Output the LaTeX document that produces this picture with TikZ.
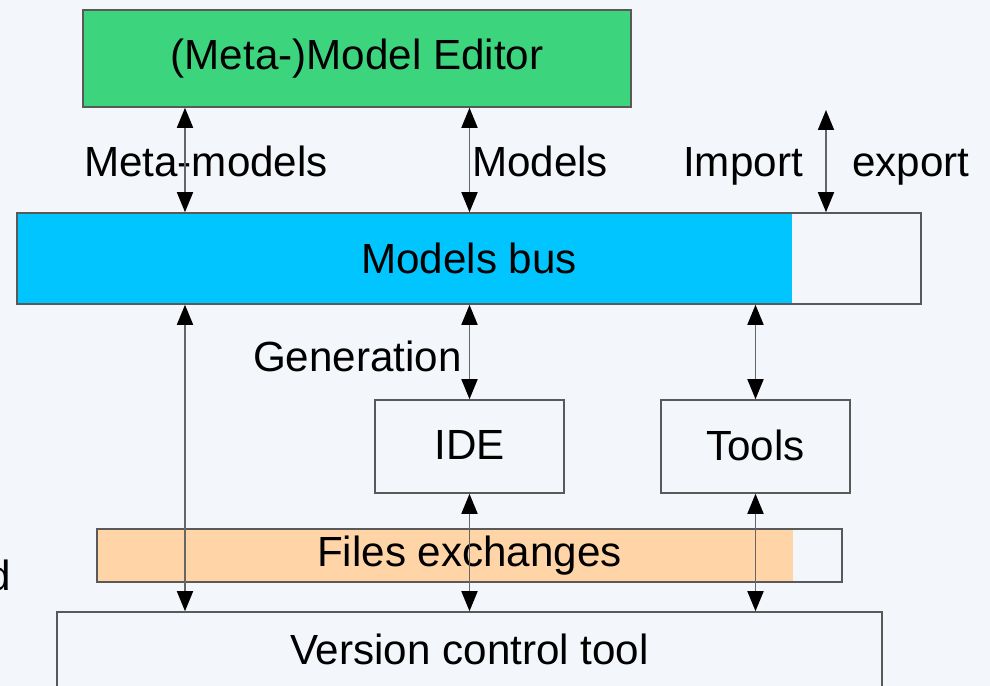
\documentclass[tikz,border=0pt]{standalone}
\usepackage{fontspec}
\setmainfont{Liberation Sans}
\usepackage{tikz}
\usetikzlibrary{arrows.meta}
\definecolor{editorgreen}{HTML}{3DD47E}
\definecolor{buscyan}{HTML}{00C5FF}
\definecolor{filesorange}{HTML}{FFD5A8}
\definecolor{slidebg}{HTML}{F3F6FB}
\tikzstyle{box} = [rectangle, draw=black!65, line width=0.9pt, inner sep=0pt]
\tikzstyle{biarrow} = [draw=black!60, line width=1pt, {Triangle[length=0.4cm,width=0.32cm,color=black]}-{Triangle[length=0.4cm,width=0.32cm,color=black]}]
\tikzset{part fill/.style 2 args={path picture={\fill[#1] (path picture bounding box.south west) rectangle ([xshift=#2]path picture bounding box.north west);}}}

\begin{document}
\begin{tikzpicture}[font=\fontsize{24}{28}\selectfont, node distance=5.72cm]
		\fill[slidebg] (0,0) rectangle (19.8,13.72);
		\useasboundingbox (0,0) rectangle (19.8,13.72);
		% boxes
		\node[box, fill=editorgreen, minimum width=10.96cm, minimum height=1.94cm] (editor) at (7.14,12.55) {(Meta-)Model Editor};
		\node[box, part fill={buscyan}{15.5cm}, minimum width=18.08cm, minimum height=1.82cm] (bus) at (9.38,8.55) {Models bus};
		\node[box, minimum width=3.78cm, minimum height=1.86cm, text depth=0.05cm] (ide) at (9.39,4.79) {IDE};
		\node[box, minimum width=3.78cm, minimum height=1.86cm, text depth=0.05cm, right of = ide] (tools) {Tools};
		\node[box, part fill={filesorange}{13.92cm}, minimum width=14.9cm, minimum height=1.06cm] (files) at (9.39,2.61) {Files exchanges};
		\node[box, minimum width=16.5cm, minimum height=1.78cm] (vcs) at (9.39,0.59) {};
		\node[anchor=base] (vcslabel) at (9.39,0.42) {Version control tool};
		\node[anchor=base east, inner sep=0pt] (cut) at (0.22,1.9) {d};
		% labels
		\node[anchor=base] (metalabel) at (4.12,10.18) {Meta-models};
		\node[anchor=base] (modlabel) at (10.8,10.18) {Models};
		\node[anchor=base] (implabel) at (14.86,10.18) {Import};
		\node[anchor=base] (explabel) at (18.22,10.18) {export};
		\node[anchor=base] (genlabel) at (7.15,6.28) {Generation};
		% arrows
		\coordinate (lx) at (3.7,0);
		\coordinate (io) at (16.52,11.52);
		\draw[biarrow] (editor.south -| lx) -- (bus.north -| lx);
		\draw[biarrow] (editor.south -| ide) -- (bus.north -| ide);
		\draw[biarrow] (io) -- (bus.north -| io);
		\draw[biarrow] (bus.south -| ide) -- (ide.north);
		\draw[biarrow] (bus.south -| tools) -- (tools.north);
		\draw[biarrow] (bus.south -| lx) -- (vcs.north -| lx);
		\draw[biarrow] (ide.south) -- (vcs.north -| ide);
		\draw[biarrow] (tools.south) -- (vcs.north -| tools);
	\end{tikzpicture}
\end{document}
